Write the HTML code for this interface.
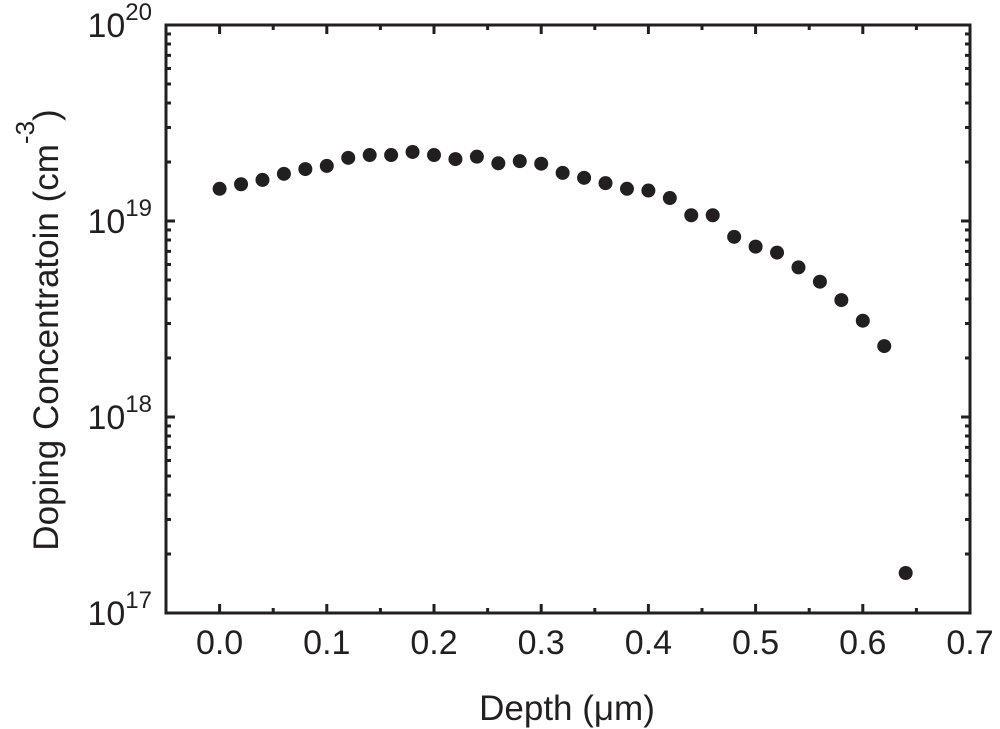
<!DOCTYPE html>
<html><head><meta charset="utf-8"><style>
html,body{margin:0;padding:0;background:#fff;}
svg{display:block;font-family:"Liberation Sans",Arial,sans-serif;}
</style></head><body>
<svg id="chart" width="1000" height="729" viewBox="0 0 1000 729" xmlns="http://www.w3.org/2000/svg">
<g id="axes"></g>
<g id="points"></g>
<text x="567" y="720" font-size="35" text-anchor="middle" fill="#231f20">Depth (μm)</text>
<text transform="translate(58,330) rotate(-90)" font-size="35" text-anchor="middle" fill="#231f20">Doping Concentratoin (cm<tspan dy="-24" font-size="26">-3</tspan><tspan dy="24">)</tspan></text>
</svg>
<script>
const depths=[0,0.02,0.04,0.06,0.08,0.10,0.12,0.14,0.16,0.18,0.20,0.22,0.24,0.26,0.28,0.30,0.32,0.34,0.36,0.38,0.40,0.42,0.44,0.46,0.48,0.50,0.52,0.54,0.56,0.58,0.60,0.62,0.64];
const concentrations=[1.46e19,1.54e19,1.62e19,1.74e19,1.84e19,1.91e19,2.1e19,2.17e19,2.17e19,2.25e19,2.17e19,2.07e19,2.13e19,1.97e19,2.02e19,1.96e19,1.76e19,1.66e19,1.56e19,1.46e19,1.43e19,1.31e19,1.07e19,1.07e19,8.3e18,7.4e18,6.9e18,5.8e18,4.9e18,3.95e18,3.1e18,2.3e18,1.6e17];
const xTicks=[0,0.1,0.2,0.3,0.4,0.5,0.6,0.7];
const xTickLabels=["0.0","0.1","0.2","0.3","0.4","0.5","0.6","0.7"];
const yDecades=[17,18,19,20];

const L=166,R=970,T=25,B=613,xmin=-0.05,xmax=0.7,ymin=17,ymax=20;
const NS="http://www.w3.org/2000/svg";
const X=v=>L+(v-xmin)/(xmax-xmin)*(R-L);
const Y=v=>B-(Math.log10(v)-ymin)/(ymax-ymin)*(B-T);
const C="#231f20";
function mk(tag,attrs,parent){const e=document.createElementNS(NS,tag);for(const k in attrs)e.setAttribute(k,attrs[k]);parent.appendChild(e);return e;}
const ax=document.getElementById('axes');
const frame=mk('rect',{x:L,y:T,width:R-L,height:B-T,fill:'none',stroke:C,'stroke-width':3},ax);


for(let i=-1;i<=14;i++){
  const v=i*0.05; if(v<xmin-1e-9||v>xmax+1e-9)continue;
  const major=(i%2===0), len=major?9:5, x=X(v);
  const t1=mk('line',{x1:x,y1:B,x2:x,y2:B-len,stroke:C,'stroke-width':3},ax);
  
  
  const t2=mk('line',{x1:x,y1:T,x2:x,y2:T+len,stroke:C,'stroke-width':3},ax);
  
  
}
xTicks.forEach((v,i)=>{
  const t=mk('text',{x:X(v),y:654,'font-size':34,'text-anchor':'middle',fill:C},ax);
  t.textContent=xTickLabels[i];
  
  
});
yDecades.forEach(d=>{
  const y=Y(Math.pow(10,d));
  [[L,L+9],[R,R-9]].forEach(p=>{
    const t=mk('line',{x1:p[0],y1:y,x2:p[1],y2:y,stroke:C,'stroke-width':3},ax);
    
    
  });
  const lab=mk('text',{x:152,y:y+12,'font-size':34,'text-anchor':'end',fill:C},ax);
  lab.innerHTML='10<tspan dy="-17" font-size="24">'+d+'</tspan>';
  
  
  if(d<ymax){for(let m=2;m<=9;m++){
    const yy=Y(m*Math.pow(10,d));
    [[L,L+5],[R,R-5]].forEach(p=>{
      const t=mk('line',{x1:p[0],y1:yy,x2:p[1],y2:yy,stroke:C,'stroke-width':3},ax);
      
      
    });
  }}
});
const pts=document.getElementById('points');
depths.forEach((d,i)=>{
  const c=mk('circle',{cx:X(d),cy:Y(concentrations[i]),r:7,fill:C},pts);
  
  
});
</script>
</body></html>
